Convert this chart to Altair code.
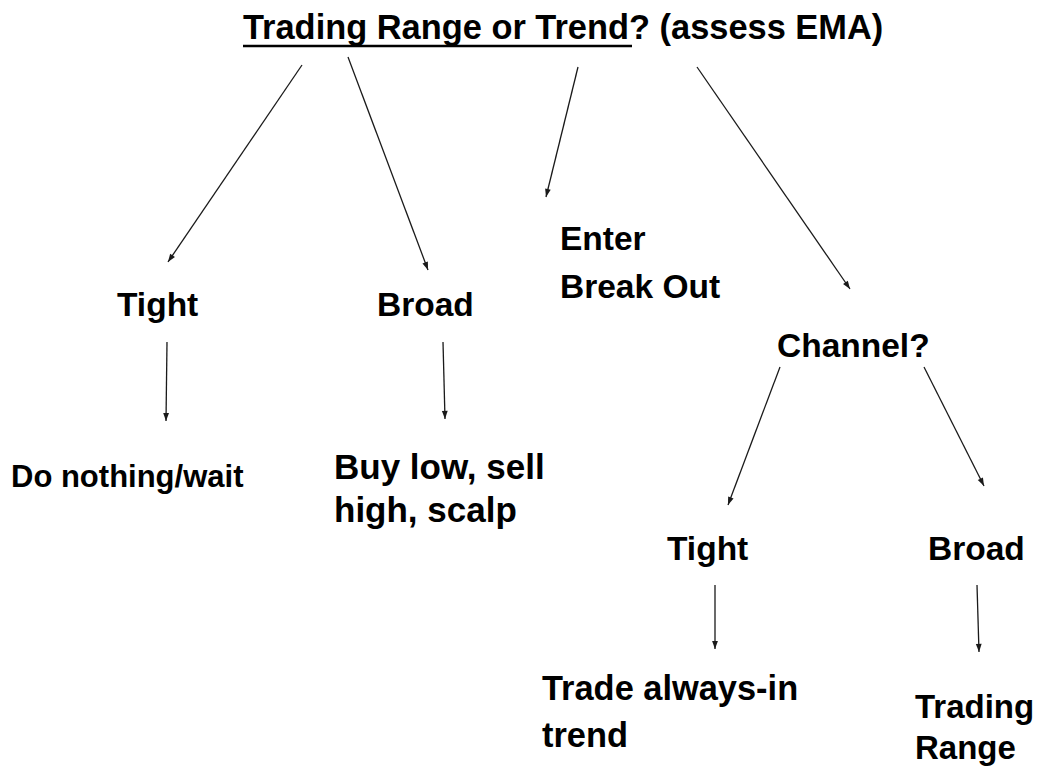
import math
import altair as alt
import pandas as pd

# ---- text nodes (left edge x, baseline y, in page pixels) ----
labels = ["Trading Range or Trend? (assess EMA)", "Tight", "Broad", "Enter", "Break Out",
          "Channel?", "Do nothing/wait", "Buy low, sell", "high, scalp", "Tight", "Broad",
          "Trade always-in", "trend", "Trading", "Range"]
label_x = [243, 117, 377, 560, 560, 777, 11, 334, 334, 667, 928, 542, 542, 915, 915]
label_y = [39, 316, 316, 250, 298, 357, 487, 479, 522, 560, 560, 700, 747, 718, 759]
label_size = [34.4, 33.5, 33.5, 33.5, 33.5, 33.5, 31, 35, 35, 33.5, 33.5, 34.4, 34.4, 33, 33]

# ---- arrows (start -> tip) ----
arrow_x1 = [302, 348, 578, 697, 167, 443, 780, 924, 715, 977]
arrow_y1 = [65, 57, 67, 67, 342, 342, 367, 367, 585, 585]
arrow_x2 = [168, 428, 546, 850, 166, 445, 728, 984, 715, 979]
arrow_y2 = [262, 270, 197, 289, 421, 419, 505, 486, 649, 652]

# ---- underline of the title's first part ----
underline_x = [243, 632]
underline_y = [46, 46]

texts = pd.DataFrame({"label": labels, "x": label_x, "y": label_y, "size": label_size})
arrows = pd.DataFrame({"x1": arrow_x1, "y1": arrow_y1, "x2": arrow_x2, "y2": arrow_y2})
arrows["angle"] = [
    (math.degrees(math.atan2(x2 - x1, -(y2 - y1))) + 360) % 360
    for x1, y1, x2, y2 in zip(arrow_x1, arrow_y1, arrow_x2, arrow_y2)
]
under = pd.DataFrame({"x1": [underline_x[0]], "x2": [underline_x[1]],
                      "y1": [underline_y[0]], "y2": [underline_y[1]]})

W, H = 1028, 760
xs = alt.Scale(domain=[8, 8 + W], nice=False, zero=False)
ys = alt.Scale(domain=[8, 8 + H], nice=False, zero=False, reverse=True)
FONT = "Liberation Sans, Arial, sans-serif"

lines = alt.Chart(arrows).mark_rule(color="#1a1a1a", strokeWidth=1.3).encode(
    x=alt.X("x1:Q", scale=xs, axis=None),
    y=alt.Y("y1:Q", scale=ys, axis=None),
    x2="x2:Q",
    y2="y2:Q",
)

heads = alt.Chart(arrows).mark_point(
    shape="M0,0L-0.36,1L0.36,1Z", filled=True, color="#1a1a1a", opacity=1, size=260
).encode(
    x=alt.X("x2:Q", scale=xs, axis=None),
    y=alt.Y("y2:Q", scale=ys, axis=None),
    angle=alt.Angle("angle:Q", scale=None),
)

uline = alt.Chart(under).mark_rule(color="black", strokeWidth=2.5).encode(
    x=alt.X("x1:Q", scale=xs, axis=None),
    y=alt.Y("y1:Q", scale=ys, axis=None),
    x2="x2:Q",
    y2="y2:Q",
)

words = alt.Chart(texts).mark_text(
    align="left", baseline="alphabetic", font=FONT, fontWeight="bold", color="black"
).encode(
    x=alt.X("x:Q", scale=xs, axis=None),
    y=alt.Y("y:Q", scale=ys, axis=None),
    text="label:N",
    size=alt.Size("size:Q", scale=None, legend=None),
)

chart = alt.layer(lines, heads, uline, words).properties(
    width=W, height=H, autosize=alt.AutoSizeParams(type="none"), padding=0,
    background="white",
).configure_view(stroke=None)

chart.save("out.html", embed_options={"renderer": "svg", "actions": False})
